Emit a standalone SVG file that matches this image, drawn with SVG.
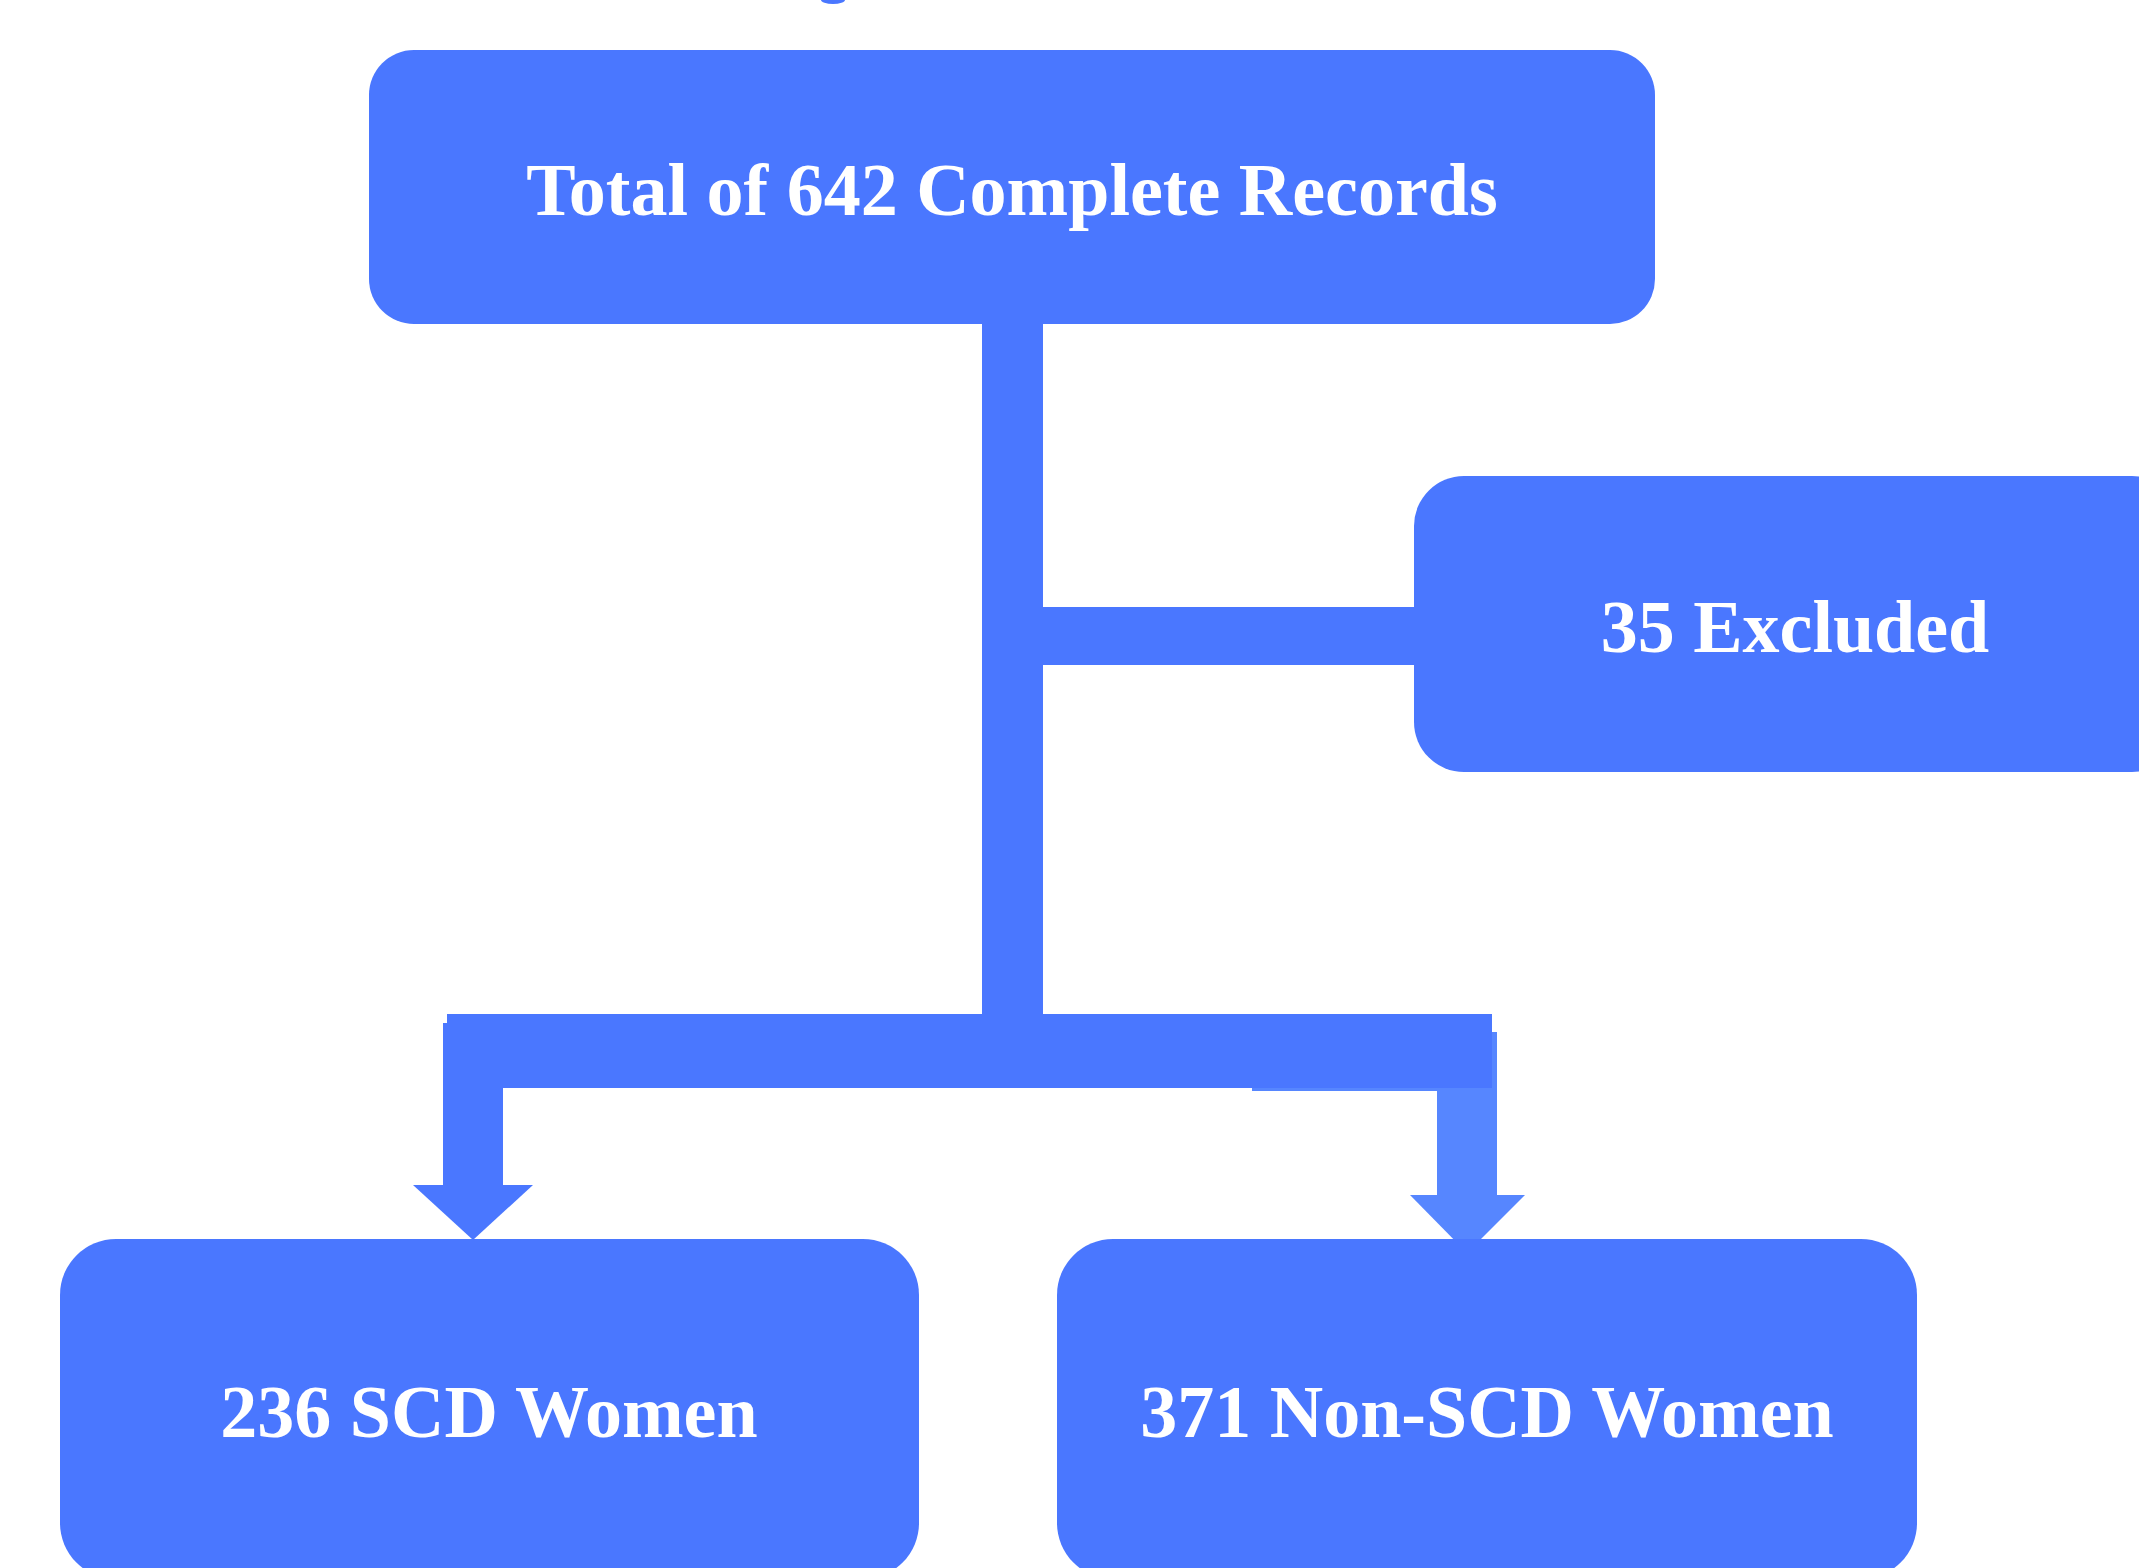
<svg xmlns="http://www.w3.org/2000/svg" width="2139" height="1568" viewBox="0 0 2139 1568">
  <style>
    .box { fill: #4A77FF; }
    .conn { fill: #4A77FF; }
    .conn2 { fill: #5686FF; }
    .lbl { fill: #FFFFFF; font-family: "Liberation Serif", "Times New Roman", serif; font-weight: bold; font-size: 74px; text-anchor: middle; }
  </style>
  <rect width="2139" height="1568" fill="#FFFFFF"/>
  <ellipse cx="833" cy="0" rx="12" ry="4" fill="#4A77FF"/>
  <g id="connectors">
    <rect class="conn" x="982" y="320" width="61" height="700"/>
    <rect class="conn" x="1040" y="607" width="378" height="58"/>
    <rect class="conn2" x="1252" y="1032" width="245" height="59"/>
    <rect class="conn2" x="1437" y="1032" width="60" height="165"/>
    <polygon class="conn2" points="1410,1195 1525,1195 1467,1253"/>
    <rect class="conn" x="447" y="1014" width="1045" height="74"/>
    <rect class="conn" x="443" y="1023" width="60" height="164"/>
    <polygon class="conn" points="413,1185 533,1185 473,1240"/>
  </g>
  <g id="node-total">
    <rect class="box" x="369" y="50" width="1286" height="274" rx="45" ry="45"/>
    <text class="lbl" x="1012" y="215">Total of 642 Complete Records</text>
  </g>
  <g id="node-excluded">
    <rect class="box" x="1414" y="476" width="768" height="296" rx="50" ry="50"/>
    <text class="lbl" x="1795" y="652">35 Excluded</text>
  </g>
  <g id="node-scd">
    <rect class="box" x="60" y="1239" width="859" height="340" rx="56" ry="56"/>
    <text class="lbl" x="489" y="1437">236 SCD Women</text>
  </g>
  <g id="node-nonscd">
    <rect class="box" x="1057" y="1239" width="860" height="340" rx="56" ry="56"/>
    <text class="lbl" x="1487" y="1437">371 Non-SCD Women</text>
  </g>
</svg>
